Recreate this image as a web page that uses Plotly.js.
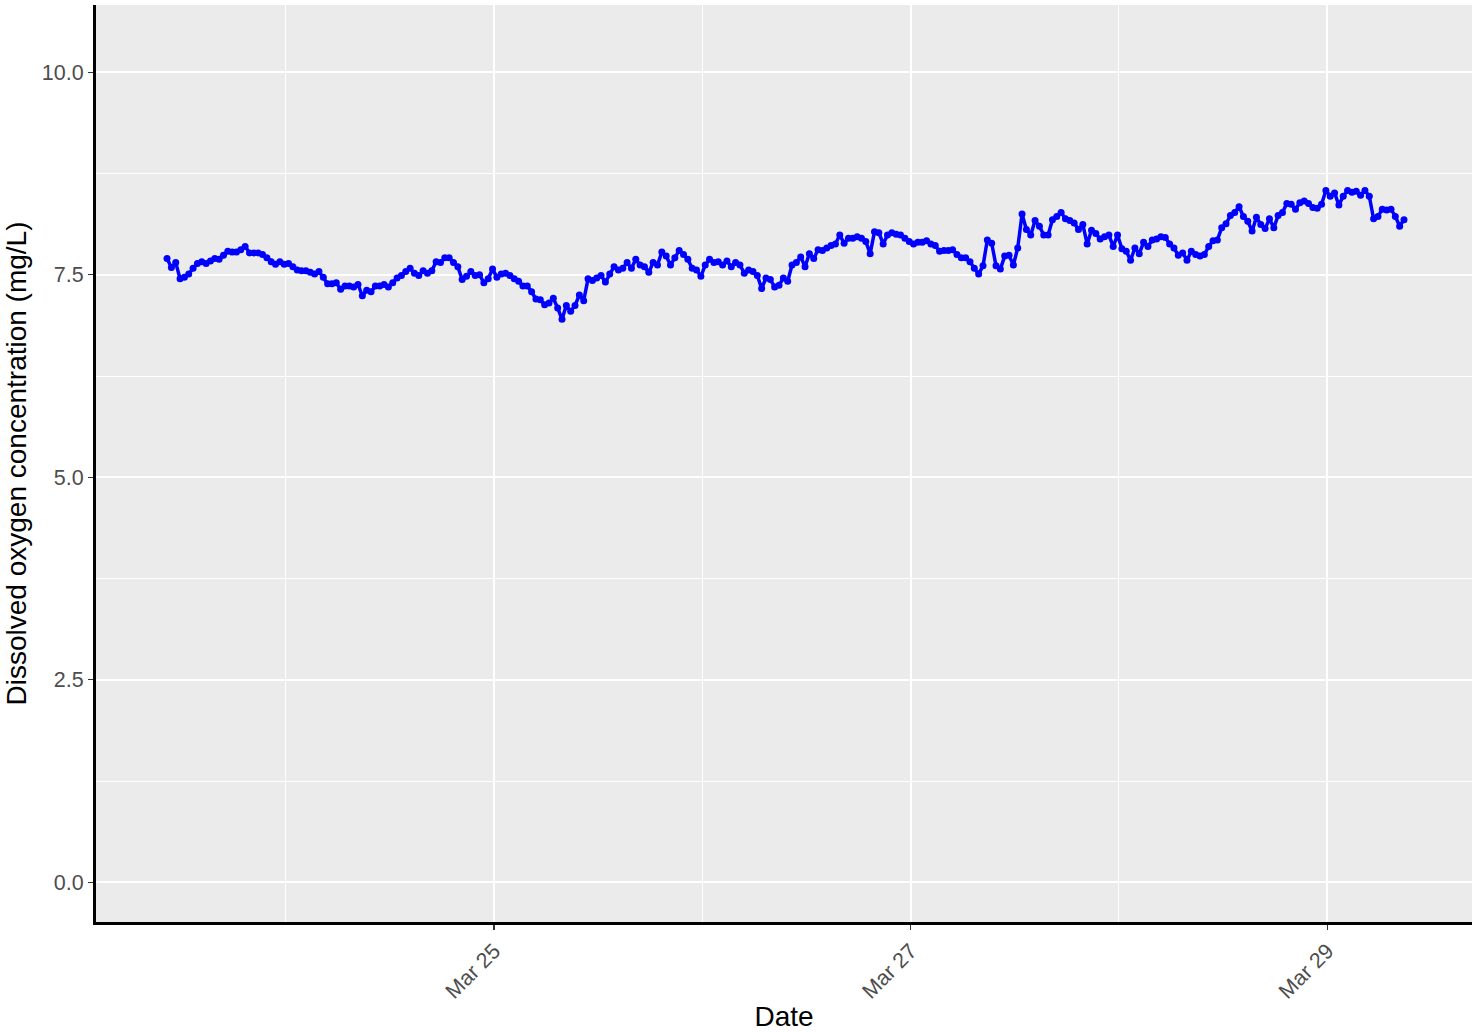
<!DOCTYPE html>
<html>
<head>
<meta charset="utf-8">
<script src="https://cdn.plot.ly/plotly-3.0.1.min.js"></script>
<style>html,body{margin:0;padding:0;background:#fff;}#chart{width:1484px;height:1032px;}</style>
</head>
<body>
<div id="chart"></div>
<script>
// Half-hourly dissolved oxygen readings (mg/L)
const startTime = "2023-03-23T10:20:00Z";
const stepMinutes = 30;
const doValues = [
7.70,7.59,7.65,7.45,7.47,7.51,7.58,7.64,7.66,7.64,7.67,7.70,7.69,7.74,7.79,7.78,7.78,7.81,7.85,7.77,7.77,7.77,7.75,7.71,7.66,7.63,7.66,7.63,7.64,7.60,7.56,7.55,7.55,7.53,7.51,7.54,7.47,7.39,7.39,7.40,7.32,7.36,7.36,7.35,7.38,7.24,7.31,
7.29,7.36,7.36,7.38,7.35,7.40,7.46,7.49,7.54,7.58,7.52,7.49,7.55,7.52,7.55,7.66,7.65,7.71,7.71,7.65,7.60,7.44,7.48,7.54,7.49,7.50,7.40,7.45,7.57,7.47,7.51,7.52,7.49,7.45,7.42,7.36,7.36,7.29,7.20,7.19,7.13,7.15,7.21,7.09,6.95,7.12,7.05,7.12,7.25,
7.18,7.45,7.43,7.46,7.49,7.41,7.51,7.60,7.56,7.58,7.65,7.58,7.69,7.62,7.60,7.53,7.65,7.62,7.78,7.73,7.62,7.71,7.80,7.75,7.69,7.58,7.56,7.48,7.62,7.69,7.65,7.66,7.62,7.67,7.60,7.65,7.62,7.52,7.56,7.54,7.49,7.33,7.46,7.44,7.35,7.37,7.46,7.42,
7.62,7.65,7.72,7.60,7.76,7.70,7.81,7.80,7.83,7.86,7.88,7.99,7.89,7.95,7.95,7.97,7.95,7.91,7.76,8.03,8.02,7.88,7.99,8.02,8.00,7.99,7.95,7.91,7.88,7.90,7.90,7.92,7.88,7.86,7.79,7.80,7.80,7.81,7.75,7.71,7.71,7.66,7.58,7.51,7.61,7.93,7.89,7.61,7.57,
7.73,7.74,7.62,7.83,8.25,8.06,7.99,8.17,8.10,7.99,7.99,8.18,8.22,8.27,8.19,8.17,8.14,8.06,8.12,7.88,8.05,8.01,7.94,7.97,7.99,7.85,7.99,7.82,7.79,7.68,7.83,7.76,7.90,7.85,7.93,7.94,7.97,7.96,7.88,7.83,7.74,7.77,7.68,7.79,7.75,7.73,7.75,7.85,
7.92,7.93,8.08,8.13,8.23,8.27,8.34,8.22,8.16,8.04,8.21,8.12,8.07,8.19,8.08,8.23,8.27,8.38,8.37,8.31,8.39,8.41,8.38,8.33,8.32,8.37,8.54,8.47,8.51,8.36,8.47,8.54,8.52,8.53,8.48,8.54,8.47,8.19,8.22,8.31,8.30,8.31,8.22,8.10,8.18
];
const yTicks = [0, 2.5, 5, 7.5, 10];
const yTickLabels = ["0.0", "2.5", "5.0", "7.5", "10.0"];
const xTicks = ["2023-03-25", "2023-03-27", "2023-03-29"];
const xTickLabels = ["Mar 25", "Mar 27", "Mar 29"];

function pad(n){return (n<10?"0":"")+n;}
const t0 = Date.parse(startTime);
const times = doValues.map((v,i)=>{
  const d = new Date(t0 + i*stepMinutes*60000);
  return d.getUTCFullYear()+"-"+pad(d.getUTCMonth()+1)+"-"+pad(d.getUTCDate())+" "+pad(d.getUTCHours())+":"+pad(d.getUTCMinutes());
});

const trace = {
  x: times, y: doValues, type: "scatter", mode: "lines+markers",
  line: {color: "#0000FF", width: 3.5},
  marker: {color: "#0000FF", size: 7},
  hoverinfo: "x+y"
};

const tickFont = {family: "Liberation Sans, Arial, sans-serif", size: 21.5, color: "#4d4d4d"};
const titleFont = {family: "Liberation Sans, Arial, sans-serif", size: 28, color: "#000000"};

const layout = {
  width: 1484, height: 1032,
  margin: {l: 96, r: 12, t: 5, b: 110},
  paper_bgcolor: "#ffffff",
  plot_bgcolor: "#EBEBEB",
  showlegend: false,
  xaxis: {
    type: "date",
    range: ["2023-03-23 02:09", "2023-03-29 16:40"],
    tickmode: "array", tickvals: xTicks, ticktext: xTickLabels,
    tickangle: -45,
    tickfont: tickFont,
    ticks: "outside", ticklen: 5, tickwidth: 1.2, tickcolor: "#333333",
    showgrid: true, gridcolor: "#ffffff", gridwidth: 2,
    minor: {tickmode: "array", tickvals: ["2023-03-24", "2023-03-26", "2023-03-28"], showgrid: true, gridcolor: "#ffffff", gridwidth: 1, ticks: ""},
    showline: true, linecolor: "#000000", linewidth: 3,
    zeroline: false,
    title: {text: "Date", font: titleFont, standoff: 6}
  },
  yaxis: {
    range: [-0.49, 10.83],
    tickmode: "array", tickvals: yTicks, ticktext: yTickLabels,
    tickfont: tickFont,
    ticks: "outside", ticklen: 5, tickwidth: 1.2, tickcolor: "#333333",
    showgrid: true, gridcolor: "#ffffff", gridwidth: 2,
    minor: {tickmode: "array", tickvals: [1.25, 3.75, 6.25, 8.75], showgrid: true, gridcolor: "#ffffff", gridwidth: 1, ticks: ""},
    showline: true, linecolor: "#000000", linewidth: 3,
    zeroline: false,
    title: {text: "Dissolved oxygen concentration (mg/L)", font: titleFont, standoff: 8}
  }
};

Plotly.newPlot("chart", [trace], layout, {displayModeBar: false, staticPlot: true});
</script>
</body>
</html>
